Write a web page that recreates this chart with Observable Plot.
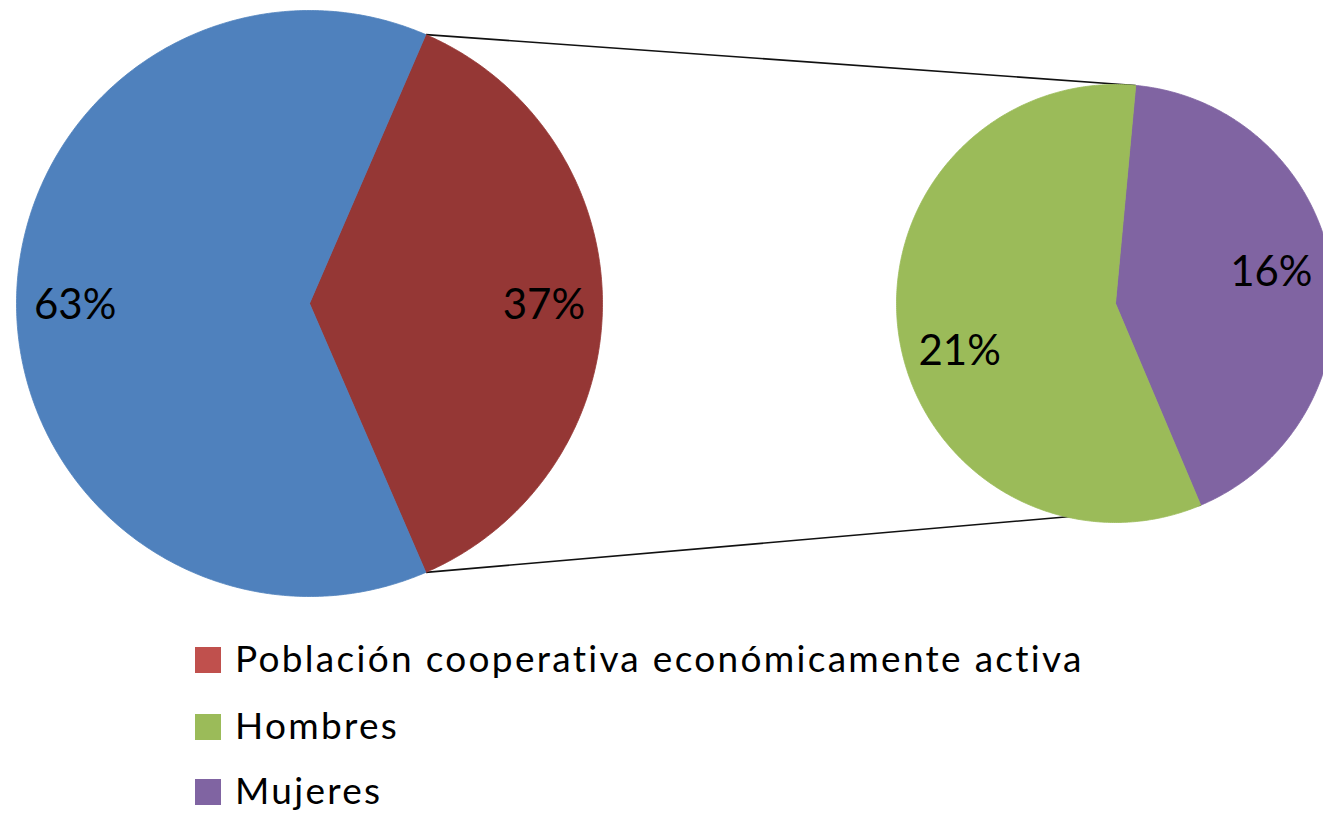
<!DOCTYPE html>
<html>
<head>
<meta charset="utf-8">
<script src="https://cdn.jsdelivr.net/npm/d3@7"></script>
<script src="https://cdn.jsdelivr.net/npm/@observablehq/plot@0.6"></script>
<style>
  html, body { margin: 0; padding: 0; background: #fff; overflow: hidden; }
  #wrap { position: relative; width: 1323px; height: 813px; }
  #legend { position: absolute; left: 195px; top: 630px; font-family: Lato, "Open Sans", sans-serif; }
  .row { position: absolute; left: 0; white-space: nowrap; }
  .sw { position: absolute; left: 0; width: 26px; height: 26px; }
  .lab { position: absolute; left: 40px; font-size: 37px; line-height: 1; color: #000; }
</style>
</head>
<body>
<div id="wrap"><div id="chart"></div><div id="legend"></div></div>
<script>
// ---- data ----
const leftCategories = ["Resto de la población", "Población cooperativa económicamente activa"];
const leftValues = [63, 37];
const rightCategories = ["Hombres", "Mujeres"];
const rightValues = [21.4, 15.6];
const legendLabels = ["Población cooperativa económicamente activa", "Hombres", "Mujeres"];

// ---- style / layout ----
const W = 1323, H = 620;
const sliceColors = {
  "Resto de la población": "#4F81BD",
  "Población cooperativa económicamente activa": "#953735",
  "Hombres": "#9BBB59",
  "Mujeres": "#8064A2"
};
const legendColors = ["#C0504D", "#9BBB59", "#8064A2"];
const labelNudge = {"Hombres": 24, "Mujeres": -7};   // vertical label nudges (best-fit placement)
const FONT = "Lato, 'Open Sans', sans-serif";

const leftPie = {cx: 309, cy: 303, r: 293};
const rightPie = {cx: 1115, cy: 303, r: 219};

function polar(p, deg, k = 1) {
  const a = deg * Math.PI / 180;
  return {x: p.cx + k * p.r * Math.sin(a), y: p.cy - k * p.r * Math.cos(a)};
}

// build slices; order: array of indices, start angle in degrees clockwise from top
function buildSlices(pie, cats, vals, order, start) {
  const total = d3.sum(vals);
  let a = start;
  return order.map(i => {
    const span = vals[i] / total * 360;
    const a0 = a, a1 = a + span;
    a = a1;
    const pts = [{x: pie.cx, y: pie.cy}];
    const n = Math.ceil(span * 2);
    for (let j = 0; j <= n; j++) pts.push(polar(pie, a0 + (a1 - a0) * j / n));
    pts.push({x: pie.cx, y: pie.cy});
    return {name: cats[i], value: vals[i], a0, a1, pts, pie};
  });
}

const leftTotal = d3.sum(leftValues);
const redFrac = leftValues[1] / leftTotal;
const leftSlices = buildSlices(leftPie, leftCategories, leftValues, [1, 0], 90 - redFrac * 180);
const rightSlices = buildSlices(rightPie, rightCategories, rightValues, [1, 0], 5.3);

const labels = [
  ...leftSlices.map(s => ({...polar(leftPie, (s.a0 + s.a1) / 2, 0.8), text: Math.round(s.value / leftTotal * 100) + "%", dy: 2})),
  ...rightSlices.map(s => ({...polar(rightPie, (s.a0 + s.a1) / 2, 0.72), text: Math.round(s.value) + "%", dy: labelNudge[s.name] || 0}))
].map(d => ({...d, y: d.y + d.dy}));

const red = leftSlices[0], purple = rightSlices[0];
const connectors = [
  {p: polar(leftPie, red.a0), q: polar(rightPie, purple.a0)},
  {p: polar(leftPie, red.a1), q: polar(rightPie, purple.a1)}
].map(d => ({x1: d.p.x, y1: d.p.y, x2: d.q.x, y2: d.q.y}));

const marks = [];
marks.push(Plot.link(connectors, {x1: "x1", y1: "y1", x2: "x2", y2: "y2", stroke: "#111", strokeWidth: 1.6}));
for (const s of [...leftSlices, ...rightSlices]) {
  marks.push(Plot.line(s.pts, {x: "x", y: "y", fill: sliceColors[s.name], stroke: sliceColors[s.name], strokeWidth: 0.8, clip: true}));
}
marks.push(Plot.text(labels, {x: "x", y: "y", text: "text", fontSize: 42, fill: "#000", fontFamily: FONT, clip: true}));

const chart = Plot.plot({
  width: W, height: H,
  margin: 0,
  x: {domain: [0, W], range: [0, W], axis: null},
  y: {domain: [0, H], range: [0, H], axis: null},
  style: {background: "#fff", fontFamily: FONT},
  marks
});
document.getElementById("chart").appendChild(chart);

// legend
const legend = document.getElementById("legend");
const rowTops = [17, 84, 149];
legendLabels.forEach((t, i) => {
  const row = document.createElement("div");
  row.className = "row";
  row.style.top = rowTops[i] + "px";
  const sw = document.createElement("div");
  sw.className = "sw";
  sw.style.background = legendColors[i];
  const lab = document.createElement("div");
  lab.className = "lab";
  lab.style.top = "-8px";
  lab.textContent = t;
  row.appendChild(sw); row.appendChild(lab);
  legend.appendChild(row);
});
// stretch long label to match reference spacing
const longLab = legend.querySelector(".lab");
const target = 850;
const w0 = longLab.getBoundingClientRect().width;
const ls = (target - w0) / longLab.textContent.length;
legend.querySelectorAll(".lab").forEach(l => l.style.letterSpacing = ls + "px");
</script>
</body>
</html>
